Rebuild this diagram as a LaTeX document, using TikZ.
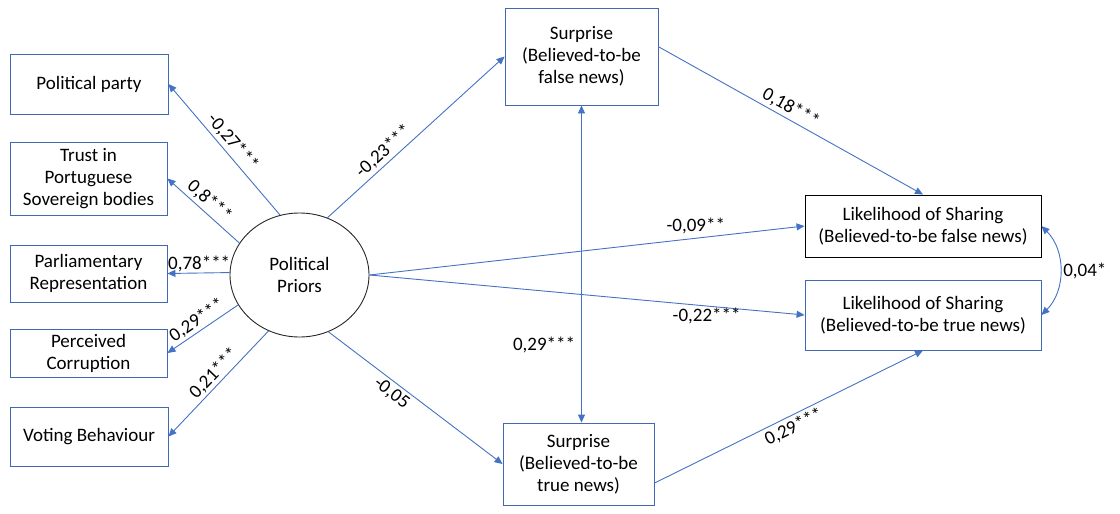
\documentclass[tikz,border=0pt]{standalone}
\usepackage{fontspec}
\setmainfont{Carlito}
\usetikzlibrary{arrows.meta,shapes.geometric,calc}
\definecolor{lineblue}{HTML}{4472C4}
\definecolor{boxblue}{HTML}{3F68B5}
\begin{document}
\begin{tikzpicture}[x=1pt,y=-1pt,
  font=\fontsize{19}{22}\selectfont,
  box/.style={draw=boxblue,line width=0.9pt,align=center,inner sep=0pt},
  conn/.style={lineblue,line width=0.9pt,-{Triangle[length=8pt,width=7pt]}},
  dconn/.style={lineblue,line width=0.9pt,{Triangle[length=8pt,width=7pt]}-{Triangle[length=8pt,width=7pt]}},
  lbl/.style={font=\fontsize{19}{20}\selectfont,inner sep=1pt,text=black}]
\useasboundingbox (0,0) rectangle (1120,514);

\node[box,minimum width=158pt,minimum height=60pt] (party) at (89,84) {Political party};
\node[box,minimum width=157pt,minimum height=73pt] (trust) at (88.5,178.5) {Trust in\\Portuguese\\Sovereign bodies};
\node[box,minimum width=157pt,minimum height=57pt] (parl) at (88.5,273.5) {Parliamentary\\Representation};
\node[box,minimum width=157pt,minimum height=48pt] (perc) at (88.5,353) {Perceived\\Corruption};
\node[box,minimum width=158pt,minimum height=59pt] (vote) at (89,436.5) {Voting Behaviour};

\node[ellipse,draw=black!85,line width=0.9pt,inner sep=0pt,minimum width=139pt,minimum height=124pt,align=center] (pp) at (299.5,275) {Political\\Priors};

\node[box,minimum width=153pt,minimum height=97pt] (SF) at (581.5,56.5) {Surprise\\(Believed-to-be\\false news)};
\node[box,minimum width=151pt,minimum height=82pt] (ST) at (578.5,464) {Surprise\\(Believed-to-be\\true news)};
\node[box,draw=black,minimum width=236pt,minimum height=62pt] (LF) at (923,226) {Likelihood of Sharing\\(Believed-to-be false news)};
\node[box,minimum width=236pt,minimum height=70pt] (LT) at (923,315) {Likelihood of Sharing\\(Believed-to-be true news)};

\draw[conn] (pp.108) -- node[lbl,sloped,above=2pt,pos=0.5]{-0,27***} (party.east);
\draw[conn] (pp.152) -- node[lbl,sloped,above=2pt,pos=0.52]{0,8***} (trust.east);
\draw[conn] (pp.178) -- node[lbl,above=0pt,pos=0.49]{0,78***} (parl.east);
\draw[conn] (pp.206) -- node[lbl,sloped,above=1pt,pos=0.5]{0,29***} (perc.east);
\draw[conn] (pp.241) -- node[lbl,sloped,above=1pt,pos=0.47]{0,21***} (vote.east);

\draw[conn] (pp.64) -- node[lbl,sloped,above=2pt,pos=0.36]{-0,23***} (SF.west);
\draw[conn] (pp.297) -- node[lbl,sloped,below=2pt,pos=0.4]{-0,05} (ST.west);
\draw[conn] (pp.east) -- node[lbl,above=3pt,pos=0.75]{-0,09**} (LF.west);
\draw[conn] (pp.east) -- node[lbl,below=1pt,pos=0.775]{-0,22***} (LT.west);

\draw[dconn] (SF.south) -- node[lbl,left=5pt,pos=0.755]{0,29***} (SF.south |- ST.north);

\draw[conn] ($(SF.north east)!0.4!(SF.south east)$) -- node[lbl,sloped,above=2pt,pos=0.48]{0,18***} (LF.north);
\draw[conn] ($(ST.north east)!0.73!(ST.south east)$) -- node[lbl,sloped,below=2pt,pos=0.5]{0,29***} (LT.south);

\draw[dconn] (LF.east) to[bend left=45] node[lbl,right=2pt]{0,04*} (LT.east);
\end{tikzpicture}
\end{document}
